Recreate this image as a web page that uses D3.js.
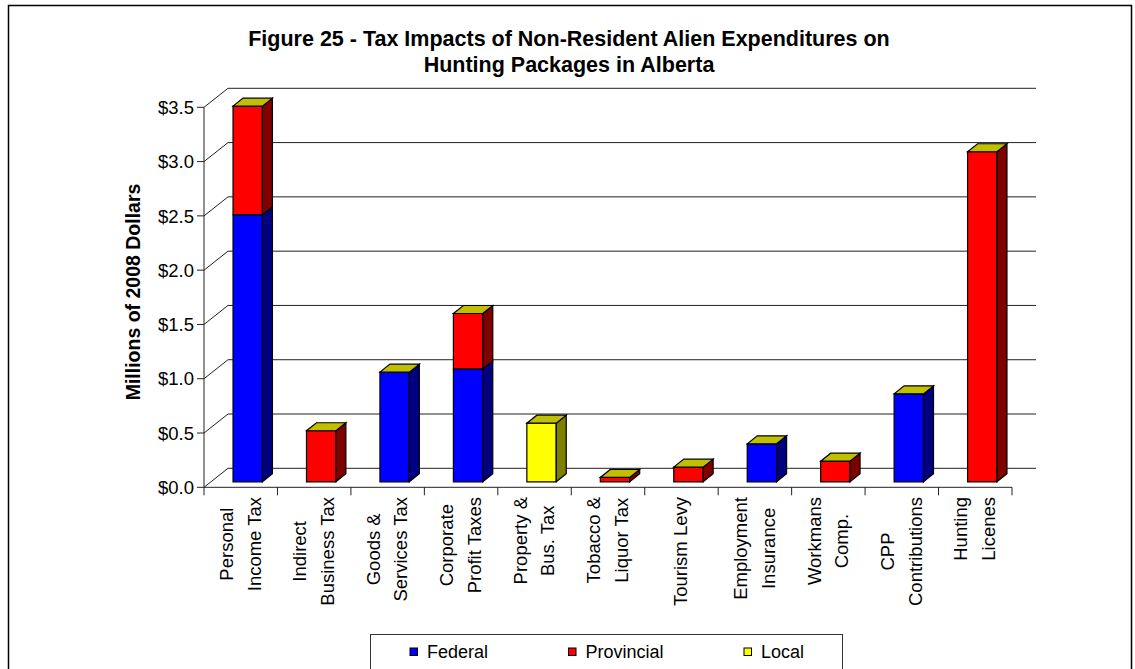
<!DOCTYPE html>
<html>
<head>
<meta charset="utf-8">
<script src="https://cdn.jsdelivr.net/npm/d3@7"></script>
<style>
  body { margin: 0; background: #fff; }
  text { font-family: "Liberation Sans", Arial, sans-serif; fill: #000; }
</style>
</head>
<body>
<svg id="chart" width="1135" height="669"></svg>
<script>
// values (millions of 2008 dollars)
const categories = [
  ['Personal', 'Income Tax'],
  ['Indirect', 'Business Tax'],
  ['Goods &', 'Services Tax'],
  ['Corporate', 'Profit Taxes'],
  ['Property &', 'Bus. Tax'],
  ['Tobacco &', 'Liquor Tax'],
  ['Tourism Levy'],
  ['Employment', 'Insurance'],
  ['Workmans', 'Comp.'],
  ['CPP', 'Contributions'],
  ['Hunting', 'Licenes']
];
const federal    = [2.46, 0, 1.01, 1.04, 0, 0, 0, 0.35, 0, 0.81, 0];
const provincial = [1.00, 0.47, 0, 0.51, 0, 0.04, 0.135, 0, 0.19, 0, 3.04];
const local      = [0, 0, 0, 0, 0.54, 0, 0, 0, 0, 0, 0];
const seriesNames = ['Federal', 'Provincial', 'Local'];
const yTicks = [0, 0.5, 1.0, 1.5, 2.0, 2.5, 3.0, 3.5];

const front = {Federal: '#0000ff', Provincial: '#ff0000', Local: '#ffff00'};
const side  = {Federal: '#000080', Provincial: '#800000', Local: '#808000'};
const topFace = '#c0c000';

const svg = d3.select('#chart');

// wall depth and bar depth (fake 3d)
const wall = {dx: 24, dy: -19};
const barOff = {dx: 7, dy: -5.5};
const barDepth = {dx: 10, dy: -8};

const x = d3.scaleBand().domain(d3.range(categories.length)).range([204, 1012]);
const y = d3.scaleLinear().domain([0, 3.5]).range([487.3, 107.3]);

// frame
svg.append('path')
  .attr('d', 'M8.5,669 V5.5 H1131.5 V669')
  .attr('fill', 'none').attr('stroke', '#000').attr('stroke-width', 1.5);

// title
const title = svg.append('text')
  .attr('text-anchor', 'middle')
  .style('font-weight', 'bold').style('font-size', '21.5px');
title.append('tspan').attr('x', 569).attr('y', 46)
  .text('Figure 25 - Tax Impacts of Non-Resident Alien Expenditures on');
title.append('tspan').attr('x', 569).attr('y', 72)
  .text('Hunting Packages in Alberta');

// side wall + back wall gridlines
const grid = svg.append('g');
yTicks.forEach(v => {
  const y0 = y(v);
  grid.append('path')
    .attr('d', `M204,${y0} L${204 + wall.dx},${y0 + wall.dy} H${1012 + wall.dx}`)
    .attr('fill', 'none').attr('stroke', '#222').attr('stroke-width', 1);
});

// y axis
const yAxis = svg.append('g');
yAxis.append('line')
  .attr('x1', 204).attr('x2', 204).attr('y1', y(0)).attr('y2', y(3.5))
  .attr('stroke', '#222');
yTicks.forEach(v => {
  yAxis.append('line').attr('x1', 197).attr('x2', 204)
    .attr('y1', y(v)).attr('y2', y(v)).attr('stroke', '#222');
  yAxis.append('text')
    .attr('x', 194).attr('y', y(v)).attr('dy', '0.36em')
    .attr('text-anchor', 'end').style('font-size', '18.5px')
    .text('$' + v.toFixed(1));
});

svg.append('text')
  .attr('transform', `translate(140,292) rotate(-90)`)
  .attr('text-anchor', 'middle')
  .style('font-weight', 'bold').style('font-size', '19.5px')
  .text('Millions of 2008 Dollars');

// x axis
const xAxis = svg.append('g');
xAxis.append('line').attr('x1', 204).attr('x2', 1012)
  .attr('y1', y(0)).attr('y2', y(0)).attr('stroke', '#222');
d3.range(categories.length + 1).forEach(i => {
  const xx = 204 + i * x.step();
  xAxis.append('line').attr('x1', xx).attr('x2', xx)
    .attr('y1', y(0)).attr('y2', y(0) + 8).attr('stroke', '#222');
});

// bars
const bars = svg.append('g');
const bw = x.step() * 0.4;
categories.forEach((c, i) => {
  const x0 = x(i) + x.bandwidth() / 2 - bw / 2 + barOff.dx;
  const x1 = x0 + bw;
  const segs = [
    ['Federal', federal[i]],
    ['Provincial', provincial[i]],
    ['Local', local[i]]
  ].filter(s => s[1] > 0);
  let base = 0;
  segs.forEach(([name, val]) => {
    const yb = y(base) + barOff.dy;
    const yt = y(base + val) + barOff.dy;
    bars.append('path')
      .attr('d', `M${x0},${yb} H${x1} V${yt} H${x0} Z`)
      .attr('fill', front[name]).attr('stroke', '#000').attr('stroke-width', 1.2);
    bars.append('path')
      .attr('d', `M${x1},${yb} L${x1 + barDepth.dx},${yb + barDepth.dy} V${yt + barDepth.dy} L${x1},${yt} Z`)
      .attr('fill', side[name]).attr('stroke', '#000').attr('stroke-width', 1.2);
    base += val;
  });
  const yt = y(base) + barOff.dy;
  bars.append('path')
    .attr('d', `M${x0},${yt} H${x1} L${x1 + barDepth.dx},${yt + barDepth.dy} H${x0 + barDepth.dx} Z`)
    .attr('fill', topFace).attr('stroke', '#000').attr('stroke-width', 1.2);
});

// category labels, rotated, block anchored near the axis
const labels = svg.append('g');
const lineGap = 27.6;
categories.forEach((lines, i) => {
  const cx = x(i) + x.bandwidth() / 2;
  const g = labels.append('g');
  const texts = lines.map(l => g.append('text')
    .style('font-size', '18.5px').attr('text-anchor', 'middle').text(l));
  const maxW = d3.max(texts, t => t.node().getComputedTextLength());
  const cy = 497 + maxW / 2;
  texts.forEach((t, k) => {
    const bx = cx + 6 + (k - (lines.length - 1) / 2) * lineGap;
    t.attr('transform', `translate(${bx},${cy}) rotate(-90)`);
  });
});

// legend
const legend = svg.append('g');
legend.append('rect')
  .attr('x', 370.5).attr('y', 634.5).attr('width', 472).attr('height', 40)
  .attr('fill', '#fff').attr('stroke', '#333').attr('stroke-width', 1);
const legX = [410, 568.5, 744];
seriesNames.forEach((s, i) => {
  legend.append('rect')
    .attr('x', legX[i]).attr('y', 648).attr('width', 7.5).attr('height', 7.5)
    .attr('fill', front[s]).attr('stroke', '#000').attr('stroke-width', 1);
  legend.append('text')
    .attr('x', legX[i] + 17).attr('y', 657.5)
    .style('font-size', '18px').text(s);
});
</script>
</body>
</html>
